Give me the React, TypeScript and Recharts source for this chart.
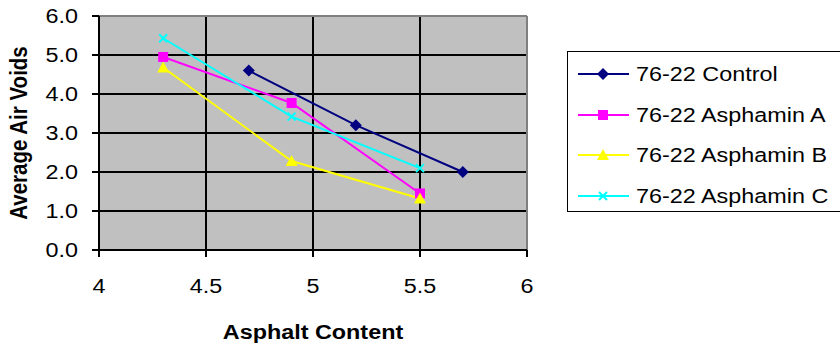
import { LineChart, Line, XAxis, YAxis, CartesianGrid, ReferenceLine } from 'recharts';

const controlData = [
  { x: 4.7, y: 4.6 },
  { x: 5.2, y: 3.2 },
  { x: 5.7, y: 2.0 },
];
const asphaminA = [
  { x: 4.3, y: 4.95 },
  { x: 4.9, y: 3.77 },
  { x: 5.5, y: 1.45 },
];
const asphaminB = [
  { x: 4.3, y: 4.68 },
  { x: 4.9, y: 2.28 },
  { x: 5.5, y: 1.32 },
];
const asphaminC = [
  { x: 4.3, y: 5.43 },
  { x: 4.9, y: 3.42 },
  { x: 5.5, y: 2.1 },
];
const xTicks = [4, 4.5, 5, 5.5, 6];
const yTicks = [0, 1, 2, 3, 4, 5, 6];

type Shape = 'diamond' | 'square' | 'triangle' | 'cross';

const series: { name: string; color: string; shape: Shape; data: { x: number; y: number }[] }[] = [
  { name: '76-22 Control', color: '#000080', shape: 'diamond', data: controlData },
  { name: '76-22 Asphamin A', color: '#FF00FF', shape: 'square', data: asphaminA },
  { name: '76-22 Asphamin B', color: '#FFFF00', shape: 'triangle', data: asphaminB },
  { name: '76-22 Asphamin C', color: '#00FFFF', shape: 'cross', data: asphaminC },
];

const font = 'Arial, "Liberation Sans", sans-serif';
// the source picture is a bit wider than tall, text gets stretched the same way
const stretch = 1.14;
const fontSize = 20.5;

function Marker({ shape, cx, cy, color }: { shape: Shape; cx: number; cy: number; color: string }) {
  if (shape === 'diamond') {
    return <polygon points={`${cx},${cy - 6} ${cx + 6},${cy} ${cx},${cy + 6} ${cx - 6},${cy}`} fill={color} />;
  }
  if (shape === 'square') {
    return <rect x={cx - 5} y={cy - 5} width={10} height={10} fill={color} />;
  }
  if (shape === 'triangle') {
    return <polygon points={`${cx},${cy - 6} ${cx + 6},${cy + 5} ${cx - 6},${cy + 5}`} fill={color} />;
  }
  return (
    <g stroke={color} strokeWidth={2}>
      <line x1={cx - 4} y1={cy - 4} x2={cx + 4} y2={cy + 4} />
      <line x1={cx - 4} y1={cy + 4} x2={cx + 4} y2={cy - 4} />
    </g>
  );
}

function XTick({ x, y, payload }: any) {
  return (
    <text transform={`translate(${x},${y}) scale(${stretch},1)`} textAnchor="middle" dy="0.71em" fontSize={fontSize} fill="#000">
      {payload.value}
    </text>
  );
}

function YTick({ x, y, payload }: any) {
  return (
    <text transform={`translate(${x},${y}) scale(${stretch},1)`} textAnchor="end" dy="0.355em" fontSize={fontSize} fill="#000">
      {Number(payload.value).toFixed(1)}
    </text>
  );
}

function XTitle({ viewBox }: any) {
  const cx = viewBox.x + viewBox.width / 2;
  const by = viewBox.y + viewBox.height - 6;
  return (
    <text transform={`translate(${cx},${by}) scale(${stretch},1)`} textAnchor="middle" fontSize={fontSize} fontWeight="bold" fill="#000">
      Asphalt Content
    </text>
  );
}

function YTitle({ viewBox }: any) {
  const cy = viewBox.y + viewBox.height / 2;
  return (
    <text transform={`translate(19,${cy}) rotate(-90) scale(1,${stretch})`} textAnchor="middle" dy="0.355em" fontSize={fontSize} fontWeight="bold" fill="#000">
      Average Air Voids
    </text>
  );
}

function LegendBox() {
  return (
    <div
      style={{
        position: 'absolute',
        left: 567,
        top: 51,
        border: '1px solid #000',
        background: '#fff',
        width: 300,
        height: 161,
        padding: '2px 0 0 10px',
        boxSizing: 'border-box',
        fontFamily: font,
        fontSize: fontSize,
        color: '#000',
      }}
    >
      {series.map((s) => (
        <div key={s.name} style={{ display: 'flex', alignItems: 'center', height: 40.5, whiteSpace: 'nowrap' }}>
          <svg width={51} height={16} style={{ marginRight: 7, flex: 'none' }}>
            <line x1={0} y1={8} x2={51} y2={8} stroke={s.color} strokeWidth={2} />
            <Marker shape={s.shape} cx={25} cy={8} color={s.color} />
          </svg>
          <span style={{ display: 'inline-block', transform: `scaleX(${stretch})`, transformOrigin: 'left center' }}>{s.name}</span>
        </div>
      ))}
    </div>
  );
}

export default function App() {
  return (
    <div style={{ position: 'absolute', left: 0, top: 0, width: 840, height: 345, overflow: 'hidden', background: '#fff' }}>
      <LineChart
        width={840}
        height={345}
        margin={{ top: 16, right: 313, left: 0, bottom: 0 }}
        style={{ fontFamily: font }}
      >
        <CartesianGrid stroke="#000" strokeWidth={2} fill="#C0C0C0" />
        <XAxis
          type="number"
          dataKey="x"
          domain={[4, 6]}
          ticks={xTicks}
          interval={0}
          allowDuplicatedCategory={false}
          height={95}
          tickSize={7}
          tickMargin={21}
          axisLine={{ stroke: '#000', strokeWidth: 2 }}
          tickLine={{ stroke: '#000', strokeWidth: 2 }}
          tick={<XTick />}
          label={{ content: (p: any) => <XTitle viewBox={p.viewBox} /> }}
        />
        <YAxis
          type="number"
          dataKey="y"
          domain={[0, 6]}
          ticks={yTicks}
          interval={0}
          width={99}
          tickSize={7}
          tickMargin={14}
          axisLine={{ stroke: '#000', strokeWidth: 2 }}
          tickLine={{ stroke: '#000', strokeWidth: 2 }}
          tick={<YTick />}
          label={{ content: (p: any) => <YTitle viewBox={p.viewBox} /> }}
        />
        <ReferenceLine y={6} stroke="#808080" strokeWidth={2} />
        <ReferenceLine x={6} stroke="#808080" strokeWidth={2} />
        {series.map((s) => (
          <Line
            key={s.name}
            data={s.data}
            dataKey="y"
            name={s.name}
            stroke={s.color}
            strokeWidth={2}
            isAnimationActive={false}
            dot={(p: any) => <Marker key={`${s.name}-${p.index}`} shape={s.shape} cx={p.cx} cy={p.cy} color={s.color} />}
            activeDot={false}
          />
        ))}
      </LineChart>
      <LegendBox />
    </div>
  );
}
